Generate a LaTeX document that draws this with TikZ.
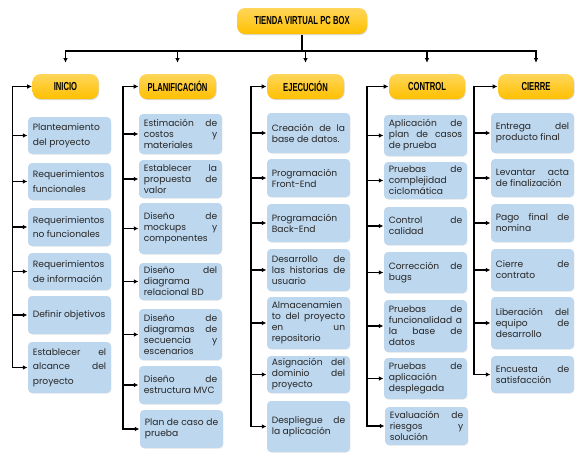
\documentclass[tikz,border=0pt]{standalone}
\usepackage{fontspec}
\setmainfont{Poppins}
\newfontfamily\headfont{Liberation Sans}[FakeStretch=0.66]
\usetikzlibrary{arrows.meta,shadows}
\definecolor{phaseyellow}{HTML}{FFC000}
\definecolor{phaselight}{HTML}{FFD65A}
\definecolor{taskblue}{HTML}{BDD7EE}
\definecolor{textgray}{HTML}{262626}
\hyphenpenalty=10000
\exhyphenpenalty=10000
\tikzset{
  head/.style = {
    rounded corners=6pt, top color=phaselight, bottom color=phaseyellow,
    drop shadow={shadow xshift=0.5pt,shadow yshift=-0.8pt,opacity=0.3},
    font=\headfont\bfseries\fontsize{8.7}{10}\selectfont,
    minimum height=18.75pt, inner sep=0pt, align=center
  },
  taskbox/.style = {
    fill=taskblue, rounded corners=3pt, text width=55pt, align=justify,
    inner xsep=3.6pt, inner ysep=2pt, text=textgray,
    drop shadow={shadow xshift=0.4pt,shadow yshift=-0.6pt,opacity=0.12},
    font=\fontsize{6.85}{8.25}\selectfont,
    minimum height=#1*0.75pt
  },
  wide/.style = {font=\fontsize{6.85}{10.9}\selectfont}
}
\tikzset{>={Latex[length=3.5pt,width=3.5pt]}}

\begin{document}
\begin{tikzpicture}[x=0.75pt,y=-0.75pt,line width=0.9pt]
  \useasboundingbox (0,0) rectangle (586,462);

  % titulo y fases
  \node[head, minimum width=97.5pt, minimum height=19.5pt] (tienda) at (302,21) {TIENDA VIRTUAL PC BOX};
  \node[head, minimum width=49.5pt]  (ini) at (65.5,86.5)  {INICIO};
  \node[head, minimum width=57.75pt] (pla) at (177.5,86.5) {PLANIFICACIÓN};
  \node[head, minimum width=57.75pt] (eje) at (305.5,86.5) {EJECUCIÓN};
  \node[head, minimum width=57pt]    (con) at (427,86.5)   {CONTROL};
  \node[head, minimum width=57pt]    (cie) at (536,86.5)   {CIERRE};

  \coordinate (bus) at (302,51);
  \draw (tienda.south) -- (bus);
  \foreach \f in {ini,pla,eje,con,cie}
    \draw[->,shorten >=8pt] (bus) -| (\f.north);

  % inicio
  \node[taskbox=37,wide] (ini1) at (69.5,135.5) {Planteamiento\linebreak del proyecto};
  \node[taskbox=37,wide] (ini2) at (69.5,181.5) {Requerimientos\linebreak funcionales};
  \node[taskbox=38,wide] (ini3) at (69.5,227)   {Requerimientos\linebreak no funcionales};
  \node[taskbox=37,wide] (ini4) at (69.5,271.5) {Requerimientos\linebreak de información};
  \node[taskbox=38,wide] (ini5) at (69.5,315)   {Definir objetivos};
  \node[taskbox=51,wide] (ini6) at (69.5,367.5) {Establecer el\linebreak alcance del\linebreak proyecto};

  % planificacion
  \node[taskbox=40] (pla1) at (180.5,134)   {Estimación de\linebreak costos y\linebreak materiales};
  \node[taskbox=38] (pla2) at (180.5,179)   {Establecer la\linebreak propuesta de\linebreak valor};
  \node[taskbox=51] (pla3) at (180.5,228.5) {Diseño de\linebreak mockups y\linebreak componentes};
  \node[taskbox=37] (pla4) at (180.5,281.5) {Diseño del\linebreak diagrama\linebreak relacional BD};
  \node[taskbox=51] (pla5) at (180.5,334.5) {Diseño de\linebreak diagramas de\linebreak secuencia y\linebreak escenarios};
  \node[taskbox=38] (pla6) at (180.5,385)   {Diseño de\linebreak estructura MVC};
  \node[taskbox=38] (pla7) at (181.5,429)   {Plan de caso de\linebreak prueba};

  % ejecucion
  \node[taskbox=40] (eje1) at (308.5,133)   {Creación de la\linebreak base de datos.};
  \node[taskbox=38] (eje2) at (308.5,178)   {Programación\linebreak Front-End};
  \node[taskbox=38] (eje3) at (308.5,223)   {Programación\linebreak Back-End};
  \node[taskbox=42] (eje4) at (308.5,270)   {Desarrollo de\linebreak las historias de\linebreak usuario};
  \node[taskbox=52] (eje5) at (308.5,323)   {Almacenamien\linebreak to del proyecto\linebreak en un\linebreak repositorio};
  \node[taskbox=37] (eje6) at (308.5,374.5) {Asignación del\linebreak dominio del\linebreak proyecto};
  \node[taskbox=51] (eje7) at (308.5,426.5) {Despliegue de\linebreak la aplicación};

  % control
  \node[taskbox=41] (con1) at (425.5,135.5) {Aplicación de\linebreak plan de casos\linebreak de prueba};
  \node[taskbox=37] (con2) at (425.5,180.5) {Pruebas de\linebreak complejidad\linebreak ciclomática};
  \node[taskbox=38] (con3) at (425.5,226)   {Control de\linebreak calidad};
  \node[taskbox=41] (con4) at (425.5,272.5) {Corrección de\linebreak bugs};
  \node[taskbox=52] (con5) at (425.5,326)   {Pruebas de\linebreak funcionalidad a\linebreak la base de\linebreak datos};
  \node[taskbox=41] (con6) at (425.5,378.5) {Pruebas de\linebreak aplicación\linebreak desplegada};
  \node[taskbox=38] (con7) at (426.5,426)   {Evaluación de\linebreak riesgos y\linebreak solución};

  % cierre
  \node[taskbox=40] (cie1) at (532.5,133)   {Entrega del\linebreak producto final};
  \node[taskbox=38] (cie2) at (532.5,178)   {Levantar acta\linebreak de finalización};
  \node[taskbox=38] (cie3) at (532.5,223)   {Pago final de\linebreak nomina};
  \node[taskbox=42] (cie4) at (532.5,270)   {Cierre de\linebreak contrato};
  \node[taskbox=52] (cie5) at (532.5,323)   {Liberación del\linebreak equipo de\linebreak desarrollo};
  \node[taskbox=37] (cie6) at (532.5,374.5) {Encuesta de\linebreak satisfacción};

  % lineas de cada fase
  \coordinate (s1) at (12.3,0);
  \coordinate (s2) at (123,0);
  \coordinate (s3) at (251,0);
  \coordinate (s4) at (367,0);
  \coordinate (s5) at (474,0);

  \draw[<->] (ini.west) -| (s1 |- ini6.west) -- (ini6.west);
  \foreach \i in {1,...,5} \draw[->] (s1 |- ini\i.west) -- (ini\i.west);

  \draw[<->] (pla.west) -| (s2 |- pla7.west) -- (pla7.west);
  \foreach \i in {1,...,6} \draw[->] (s2 |- pla\i.west) -- (pla\i.west);

  \draw[<->] (eje.west) -| (s3 |- eje7.west) -- (eje7.west);
  \foreach \i in {1,...,6} \draw[->] (s3 |- eje\i.west) -- (eje\i.west);

  \draw[<->] (con.west) -| (s4 |- con7.west) -- (con7.west);
  \foreach \i in {1,...,6} \draw[->] (s4 |- con\i.west) -- (con\i.west);

  \draw[<->] (cie.west) -| (s5 |- cie6.west) -- (cie6.west);
  \foreach \i in {1,...,5} \draw[->] (s5 |- cie\i.west) -- (cie\i.west);
\end{tikzpicture}
\end{document}
